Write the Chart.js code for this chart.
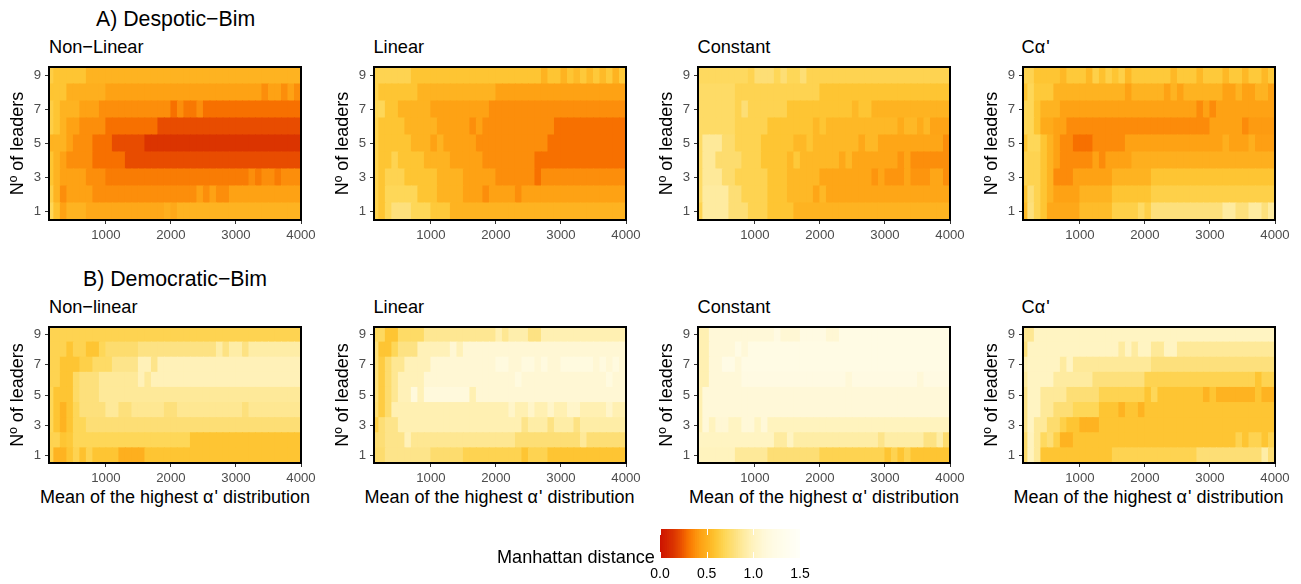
<!DOCTYPE html>
<html>
<head>
<meta charset="utf-8">
<script src="https://cdn.jsdelivr.net/npm/chart.js@4"></script>
<style>
  html, body { margin: 0; background: #fff; }
  body { position: relative; width: 1301px; height: 584px; overflow: hidden; font-family: "Liberation Sans", Helvetica, Arial, sans-serif; color: #000; }
  canvas { position: absolute; }
  .txt { position: absolute; white-space: nowrap; line-height: 20px; }
  .txt span { letter-spacing: 1px; }
</style>
</head>
<body>
<script>
// cell centres along the x axis
const means = [150,250,350,450,550,650,750,850,950,1050,1150,1250,1350,1450,1550,1650,1750,1850,1950,2050,2150,2250,2350,2450,2550,2650,2750,2850,2950,3050,3150,3250,3350,3450,3550,3650,3750,3850,3950];
const xTicks = [1000,2000,3000,4000];
const yTicks = [1,3,5,7,9];
const rowsTopDown = [9,8,7,6,5,4,3,2,1];
const legendTicks = [0,0.5,1,1.5];

// each row (9 at top, 1 at bottom) reads: value, x where that value stops, value, x where it stops...
const despoticNonLinear = [
  [.65,200,.60,700,.52,4000],
  [.60,400,.50,1000,.44,3400,.38,3500,.44,3700,.38,3800,.44,3900,.38,4000],
  [.65,200,.60,300,.52,600,.44,900,.38,2000,.30,2100,.38,2200,.32,2400,.38,2500,.30,4000],
  [.65,200,.60,300,.52,400,.44,600,.38,1000,.30,1800,.22,4000],
  [.52,400,.44,500,.38,800,.30,1100,.22,1600,.15,4000],
  [.60,200,.52,300,.44,400,.38,800,.30,1300,.22,4000],
  [.60,200,.52,300,.44,700,.38,1000,.33,3200,.38,3300,.33,3400,.38,3600,.33,3700,.38,4000],
  [.65,200,.52,300,.38,400,.44,800,.38,2400,.44,2500,.38,2600,.44,2700,.38,2900,.44,4000],
  [.70,200,.58,300,.44,400,.52,700,.47,1900,.50,2000,.47,2100,.52,4000]
];
const despoticLinear = [
  [.68,700,.60,2700,.52,2800,.60,3000,.52,3100,.60,3200,.55,3300,.62,3400,.55,3500,.62,3600,.55,3700,.62,3800,.52,3900,.62,4000],
  [.68,200,.60,800,.52,2000,.44,4000],
  [.70,300,.60,500,.52,1000,.44,1900,.38,4000],
  [.68,200,.60,600,.52,1100,.44,1600,.38,1700,.44,1800,.38,2900,.30,4000],
  [.68,200,.60,700,.52,1000,.44,1100,.52,1200,.44,1700,.38,2800,.30,4000],
  [.68,200,.60,400,.68,500,.60,900,.52,1300,.44,1800,.38,2600,.30,4000],
  [.68,200,.60,300,.68,600,.60,1100,.52,1500,.44,2000,.38,2600,.30,2700,.38,4000],
  [.68,200,.60,300,.70,800,.60,1100,.52,1500,.44,1800,.38,1900,.44,2300,.38,2400,.44,4000],
  [.68,200,.60,300,.70,400,.80,700,.70,1000,.62,1300,.52,4000]
];
const despoticConstant = [
  [.72,900,.68,1000,.78,1300,.70,1400,.78,1500,.70,1700,.78,1800,.68,4000],
  [.74,700,.68,2000,.60,4000],
  [.74,700,.68,800,.78,900,.68,1500,.60,2500,.54,2600,.60,2800,.52,4000],
  [.74,700,.68,1200,.60,1900,.54,2000,.60,2100,.54,3200,.48,3300,.54,3500,.48,3600,.54,3700,.45,4000],
  [.74,200,.88,500,.76,700,.68,1100,.60,1600,.54,1800,.60,1900,.54,2600,.47,2700,.54,2900,.46,3900,.38,4000],
  [.74,200,.88,400,.76,800,.68,1100,.60,1500,.54,1600,.62,1700,.54,2300,.47,2400,.54,2500,.46,3200,.40,3300,.46,3400,.38,4000],
  [.74,200,.88,500,.76,700,.68,1200,.60,1500,.54,2000,.46,2800,.40,2900,.46,3000,.40,3300,.46,3400,.40,3700,.46,3900,.38,4000],
  [.74,200,.90,600,.78,800,.68,1200,.60,1500,.54,1900,.46,2000,.54,2100,.46,4000],
  [.68,200,.90,600,.78,900,.68,1200,.60,1600,.52,4000]
];
const despoticCalpha = [
  [.68,300,.60,700,.54,800,.62,1100,.54,1200,.66,1300,.58,1400,.66,1500,.60,1600,.66,1700,.54,1800,.62,2400,.54,2500,.62,2800,.54,2900,.62,3200,.54,3300,.62,3500,.54,3600,.62,3800,.54,3900,.62,4000],
  [.60,200,.70,300,.62,600,.52,1700,.44,1800,.52,2300,.44,2400,.52,2500,.44,2600,.52,3200,.44,3400,.52,3500,.44,3700,.52,3900,.44,4000],
  [.70,300,.60,400,.52,700,.44,2800,.37,2900,.44,3000,.37,3100,.44,4000],
  [.70,300,.60,400,.48,600,.44,800,.37,3000,.44,3500,.37,3600,.42,4000],
  [.60,200,.70,400,.60,500,.52,600,.44,700,.37,900,.30,1200,.37,1700,.44,3200,.50,3300,.44,3600,.50,3700,.43,4000],
  [.68,400,.60,500,.52,600,.44,700,.37,1200,.44,1300,.37,1400,.44,1800,.50,4000],
  [.68,400,.60,500,.52,600,.37,900,.44,1500,.52,2100,.60,4000],
  [.60,200,.78,300,.68,400,.60,500,.52,600,.44,1000,.52,1500,.60,2100,.66,4000],
  [.56,200,.80,300,.68,400,.60,500,.47,1000,.56,1500,.66,1900,.74,2000,.66,2100,.80,3200,.90,3400,.80,3600,.90,3800,.80,3900,.90,4000]
];
const democraticNonLinear = [
  [.68,4000],
  [.68,400,.60,500,.68,700,.60,900,.70,1000,.76,1500,.82,2700,.92,2800,.82,2900,.92,3100,.82,3200,.92,4000],
  [.68,300,.60,600,.66,800,.74,1100,.84,1500,.98,1700,.84,1800,.98,4000],
  [.68,300,.60,500,.74,600,.80,900,.88,1500,.98,1600,.88,1700,.98,4000],
  [.70,200,.60,500,.74,600,.80,900,.88,4000],
  [.70,200,.60,300,.52,400,.60,500,.70,600,.80,1000,.88,1200,.80,1400,.86,1900,.80,2100,.86,3100,.80,3200,.86,4000],
  [.70,200,.60,300,.52,400,.60,500,.70,700,.78,4000],
  [.68,300,.60,400,.62,500,.70,2300,.60,4000],
  [.68,200,.52,400,.60,500,.68,600,.58,700,.68,800,.60,1200,.50,1600,.60,4000]
];
const democraticLinear = [
  [.72,300,.60,500,.74,900,.86,2000,.96,2100,.86,2200,.94,2500,.82,2700,.96,4000],
  [.80,200,.60,400,.70,500,.82,800,.98,1300,1.1,1400,.98,1500,1.1,4000],
  [.80,200,.64,300,.76,400,.86,600,.98,1000,1.1,2000,1.18,2200,1.1,2400,1.18,2600,1.1,2700,1.18,2800,1.1,3000,1.18,3500,1.1,3600,1.18,3700,1.1,3800,1.18,3900,1.1,4000],
  [.80,200,.64,300,.76,400,.86,500,.98,900,1.1,2300,1.18,2400,1.1,3700,1.18,3800,1.1,4000],
  [.80,200,.64,300,.76,400,.86,500,.98,700,1.15,800,.98,900,1.15,1600,.96,1700,1.1,4000],
  [.78,200,.64,300,.76,400,.96,2200,1.05,2300,.96,2500,1.05,2600,.96,2800,1.05,2900,.96,3100,1.05,3300,.96,3700,1.05,3800,.96,4000],
  [.66,200,.78,300,.84,500,.96,2400,.84,2500,.92,2800,.82,2900,.92,3200,.82,3300,.92,4000],
  [.78,300,.84,600,.98,700,.86,2300,.78,3300,.88,3400,.78,4000],
  [.76,300,.84,1000,.76,1500,.68,2400,.60,2500,.68,2800,.60,4000]
];
const democraticConstant = [
  [.96,300,1.12,1300,1.2,1400,1.1,1700,1.2,2100,1.1,2300,1.22,4000],
  [.96,300,1.12,700,1.22,800,1.12,900,1.22,4000],
  [.96,300,1.12,500,1.24,700,1.12,800,1.22,4000],
  [.96,300,1.12,800,1.2,2400,1.12,2500,1.2,3500,1.12,3600,1.2,4000],
  [.96,200,1.12,4000],
  [.96,200,1.12,4000],
  [.96,200,1.12,300,1.0,400,1.1,600,1.02,800,1.12,1000,1.02,1100,1.12,1200,1.0,4000],
  [1.02,1300,.90,1500,1.02,1600,.92,2900,.84,3000,.92,3600,.82,3800,.92,3900,.76,4000],
  [1.0,700,.88,1200,.78,2000,.68,3000,.60,3100,.68,3200,.60,3300,.68,3400,.60,4000]
];
const democraticCalpha = [
  [.86,300,1.02,4000],
  [.80,200,1.02,1600,.90,1700,1.02,1800,.90,1900,1.02,2100,.88,2300,1.02,2500,.88,4000],
  [.96,200,1.02,700,.90,800,1.02,900,.88,2100,.80,4000],
  [.90,200,1.02,600,.90,1200,.80,2000,.68,3700,.60,3800,.68,4000],
  [.84,200,1.02,400,.88,800,.78,1300,.68,2000,.60,2100,.70,2200,.60,2900,.52,3000,.60,3100,.52,3700,.60,3800,.52,4000],
  [.84,200,1.02,400,.88,600,.78,900,.70,1300,.60,1600,.52,1700,.60,1900,.52,2000,.60,4000],
  [.84,200,1.02,300,.88,500,.76,700,.66,800,.60,1000,.52,1300,.60,4000],
  [.76,200,1.0,300,.88,400,.72,500,.78,600,.66,700,.52,900,.60,3400,.68,3500,.60,3600,.68,3800,.60,3900,.68,4000],
  [.76,200,1.0,300,.88,400,.60,1500,.68,2800,.78,3800,.92,3900,.78,4000]
];

// value -> colour
const colourStops = [[0,'#cc1100'],[.15,'#db3400'],[.22,'#e84c00'],[.30,'#f77000'],[.37,'#fc8b0a'],[.44,'#fea214'],[.52,'#feb321'],[.60,'#fec533'],[.70,'#fed758'],[.80,'#fde07c'],[.90,'#feeba0'],[1.0,'#fff3be'],[1.12,'#fff8d8'],[1.22,'#fffbe4'],[1.5,'#fffff8']];

function hexToRgb(h){
  return [parseInt(h.slice(1,3),16), parseInt(h.slice(3,5),16), parseInt(h.slice(5,7),16)];
}
function valueColour(v){
  for (let i = 1; i < colourStops.length; i++) {
    if (v <= colourStops[i][0]) {
      const a = colourStops[i-1], b = colourStops[i];
      const t = (v - a[0]) / (b[0] - a[0]);
      const ca = hexToRgb(a[1]), cb = hexToRgb(b[1]);
      return `rgb(${ca.map((c,k) => Math.round(c + (cb[k]-c)*t)).join(',')})`;
    }
  }
  return colourStops[colourStops.length-1][1];
}

// expand the rows to one floating bar per cell
function buildCells(rows){
  const cells = [];
  rows.forEach((row, r) => {
    const leaders = rowsTopDown[r];
    means.forEach(m => {
      let i = 0;
      while (i < row.length - 2 && m >= row[i+1]) i += 2;
      cells.push({x: m, y: [leaders-0.5, leaders+0.5], v: row[i]});
    });
  });
  return cells;
}

const FONT = '"Liberation Sans", Helvetica, Arial, sans-serif';
Chart.defaults.font.family = FONT;

const panelBorder = {
  id: 'panelBorder',
  afterDatasetsDraw(chart){
    const a = chart.chartArea, ctx = chart.ctx;
    ctx.save();
    ctx.strokeStyle = '#000';
    ctx.lineWidth = 2;
    ctx.strokeRect(a.left, a.top, a.right-a.left, a.bottom-a.top);
    ctx.restore();
  }
};

function addText(str, left, centreY, size){
  const d = document.createElement('div');
  d.className = 'txt';
  d.innerHTML = str;
  d.style.left = left + 'px';
  d.style.top = (centreY-10) + 'px';
  d.style.fontSize = size + 'px';
  document.body.appendChild(d);
}

function addPanel(rows, plotLeft, plotTop, plotH, axisH){
  const axisW = 49, rightPad = 24, plotW = 252, topPad = 7;
  const canvas = document.createElement('canvas');
  canvas.width = axisW + plotW + rightPad;
  canvas.height = topPad + plotH + axisH;
  canvas.style.left = (plotLeft-axisW) + 'px';
  canvas.style.top = (plotTop-topPad) + 'px';
  document.body.appendChild(canvas);
  new Chart(canvas, {
    type: 'bar',
    data: { datasets: [{
      data: buildCells(rows),
      backgroundColor: c => c.raw ? valueColour(c.raw.v) : '#fff',
      borderWidth: 0,
      inflateAmount: 0.5,
      barPercentage: 1,
      categoryPercentage: 1
    }]},
    plugins: [panelBorder],
    options: {
      responsive: false,
      animation: false,
      layout: { padding: { top: topPad, right: rightPad, left: 0, bottom: 0 } },
      plugins: { legend: {display:false}, tooltip: {enabled:false}, title: {display:false} },
      scales: {
        x: {
          type: 'linear', min: 125, max: 4000, offset: false,
          afterBuildTicks: s => { s.ticks = xTicks.map(v => ({value:v})); },
          afterFit: s => { s.height = axisH; s.paddingLeft = 0; s.paddingRight = 0; },
          grid: { offset:false, drawOnChartArea:false, drawTicks:true, tickLength:4, tickColor:'#333', tickWidth:1 },
          border: { display:false },
          ticks: { color:'#4d4d4d', font:{size:13.2}, padding:3, maxRotation:0, autoSkip:false, callback: v => String(v) }
        },
        y: {
          type: 'linear', min: 0.5, max: 9.5,
          afterBuildTicks: s => { s.ticks = yTicks.map(v => ({value:v})); },
          afterFit: s => { s.width = axisW; s.paddingTop = 0; s.paddingBottom = 0; },
          grid: { drawOnChartArea:false, drawTicks:true, tickLength:4, tickColor:'#333', tickWidth:1 },
          border: { display:false },
          ticks: { color:'#4d4d4d', font:{size:13.2}, padding:4, autoSkip:false, callback: v => String(v) },
          title: { display:true, text:'N\u00ba of leaders', color:'#000', font:{size:18}, padding:{top:7,bottom:0} }
        }
      }
    }
  });
}

const panelLefts = [49,374,698,1023];
const titleLefts = [49,373.5,697.5,1021.5];
const xTitleLefts = [40,364.5,689,1013.5];

addText('A) Despotic\u2212Bim', 96, 19, 21.3);
addText('B) Democratic\u2212Bim', 83, 279, 21.3);
['Non\u2212Linear','Linear','Constant',"C<span>\u03b1</span>'"].forEach((t,i) => addText(t, titleLefts[i], 47, 18.2));
['Non\u2212linear','Linear','Constant',"C<span>\u03b1</span>'"].forEach((t,i) => addText(t, titleLefts[i], 307, 18.2));
xTitleLefts.forEach(l => addText("Mean of the highest <span>\u03b1</span>' distribution", l, 497, 18));

[despoticNonLinear, despoticLinear, despoticConstant, despoticCalpha].forEach((rows,i) => addPanel(rows, panelLefts[i], 67, 153, 30));
[democraticNonLinear, democraticLinear, democraticConstant, democraticCalpha].forEach((rows,i) => addPanel(rows, panelLefts[i], 327, 136, 30));

// colour bar
const legendCells = [];
for (let v = 0.01; v < 1.5; v += 0.02) legendCells.push({x: v, y: [0,1], v: v});

const barTicks = {
  id: 'barTicks',
  afterDatasetsDraw(chart){
    const a = chart.chartArea, ctx = chart.ctx, sx = chart.scales.x;
    ctx.save();
    ctx.strokeStyle = '#fff';
    ctx.lineWidth = 1;
    legendTicks.forEach(v => {
      const px = Math.round(sx.getPixelForValue(v)) + 0.5;
      ctx.beginPath();
      ctx.moveTo(px, a.top); ctx.lineTo(px, a.top+6);
      ctx.moveTo(px, a.bottom-6); ctx.lineTo(px, a.bottom);
      ctx.stroke();
    });
    ctx.restore();
  }
};

const legendCanvas = document.createElement('canvas');
legendCanvas.width = 190;
legendCanvas.height = 60;
legendCanvas.style.left = '640px';
legendCanvas.style.top = '524px';
document.body.appendChild(legendCanvas);
new Chart(legendCanvas, {
  type: 'bar',
  data: { datasets: [{
    data: legendCells,
    backgroundColor: c => c.raw ? valueColour(c.raw.v) : '#fff',
    borderWidth: 0,
    inflateAmount: 0.5,
    barPercentage: 1,
    categoryPercentage: 1
  }]},
  plugins: [barTicks],
  options: {
    responsive: false,
    animation: false,
    layout: { padding: { top: 5, right: 30, left: 20, bottom: 0 } },
    plugins: { legend: {display:false}, tooltip: {enabled:false} },
    scales: {
      x: {
        type: 'linear', min: 0, max: 1.5, offset: false,
        afterBuildTicks: s => { s.ticks = legendTicks.map(v => ({value:v})); },
        afterFit: s => { s.height = 26; s.paddingLeft = 0; s.paddingRight = 0; },
        grid: { offset:false, display:false, tickLength:0 },
        border: { display:false },
        ticks: { color:'#000', font:{size:14}, padding:8, maxRotation:0, autoSkip:false, callback: v => v.toFixed(1) }
      },
      y: { type:'linear', min:0, max:1, display:false }
    }
  }
});
addText('Manhattan distance', 497, 556.5, 18.1);
</script>
</body>
</html>
